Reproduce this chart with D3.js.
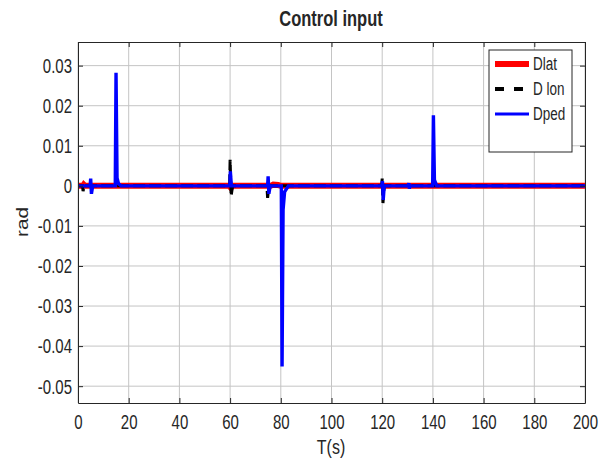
<!DOCTYPE html>
<html>
<head>
<meta charset="utf-8">
<script src="https://cdn.jsdelivr.net/npm/d3@7"></script>
<style>
  body { margin: 0; background: #fff; }
  svg { display: block; }
  text { font-family: "Liberation Sans", Arial, sans-serif; fill: #262626; }
</style>
</head>
<body>
<svg id="chart" width="610" height="466"></svg>
<script>
// ---- data ----
const xTicks = [0, 20, 40, 60, 80, 100, 120, 140, 160, 180, 200];
const yTicks = [-0.05, -0.04, -0.03, -0.02, -0.01, 0, 0.01, 0.02, 0.03];
const yTickLabels = ["-0.05", "-0.04", "-0.03", "-0.02", "-0.01", "0", "0.01", "0.02", "0.03"];
const seriesNames = ["Dlat", "D lon", "Dped"];

// [time (s), value (rad)]
const dlat = [[0,0],[2,0],[2.3,0.0003],[2.8,0],[59.6,0],[60.3,-0.0005],[61,0],[76,0],[77,0.0003],[79,0.0002],[80,0],[200,0]];
const dlon = [[0,0],[1.8,0],[2,-0.0013],[2.5,0],[59.8,0],[60,0.0065],[60.4,-0.0025],[61,0],[74.5,0],[74.8,-0.003],[75.3,0],[119.8,0],[120,0.0018],[120.3,-0.0043],[120.8,0],[200,0]];
const dped = [[0,0],[4.8,0],[5,0.0018],[5.3,-0.002],[5.8,0],[14.7,0],[15,0.0282],[15.4,0.002],[16,0.0005],[17,0],
              [59.9,0],[60.1,0.0036],[60.5,0],[74.8,0],[75,0.0024],[75.3,-0.002],[75.8,0],
              [80.2,0],[80.5,-0.0451],[80.9,-0.006],[81.5,-0.0015],[83,0],
              [119.9,0],[120.1,0.0012],[120.4,-0.0035],[120.8,0],
              [130.3,0],[130.5,0.0007],[130.7,-0.0007],[131,0],
              [139.9,0],[140.2,0.0176],[140.6,0.0015],[141.5,0],[200,0]];

// ---- layout ----
const svg = d3.select("#chart");
const L = 78, R = 585, T = 42, B = 403;
const x = d3.scaleLinear().domain([0, 200]).range([L, R]);
const y = d3.scaleLinear().domain([-0.0542, 0.0359]).range([B, T]);
const SY = 1.3; // vertical text stretch of the original figure
const axisColor = "#262626";

// grid
const grid = svg.append("g");
grid.selectAll(".gx").data(xTicks).join("line")
  .attr("x1", d => x(d)).attr("x2", d => x(d)).attr("y1", T).attr("y2", B)
  .attr("stroke", "#c4c4c4").attr("stroke-width", 1);
grid.selectAll(".gy").data(yTicks).join("line")
  .attr("x1", L).attr("x2", R).attr("y1", d => y(d)).attr("y2", d => y(d))
  .attr("stroke", "#c4c4c4").attr("stroke-width", 1);

// lines
const line = d3.line().x(d => x(d[0])).y(d => y(d[1]));
const plot = svg.append("g");
plot.append("path").datum(dlat).attr("d", line).attr("fill", "none")
  .attr("stroke", "#ff0000").attr("stroke-width", 6);
plot.append("path").datum(dlon).attr("d", line).attr("fill", "none")
  .attr("stroke", "#000").attr("stroke-width", 3).attr("stroke-dasharray", "12,4");
plot.append("path").datum(dped).attr("d", line).attr("fill", "none")
  .attr("stroke", "#0000ff").attr("stroke-width", 3.4);

// axes (inner ticks, box)
const fmtY = d => yTickLabels[yTicks.findIndex(v => Math.abs(v - d) < 1e-9)];
const gB = svg.append("g").attr("transform", `translate(0,${B})`)
  .call(d3.axisBottom(x).tickValues(xTicks).tickSizeInner(-5).tickSizeOuter(0).tickPadding(0).tickFormat(d3.format("d")));
const gT = svg.append("g").attr("transform", `translate(0,${T})`)
  .call(d3.axisTop(x).tickValues(xTicks).tickSizeInner(-5).tickSizeOuter(0).tickFormat(""));
const gL = svg.append("g").attr("transform", `translate(${L},0)`)
  .call(d3.axisLeft(y).tickValues(yTicks).tickSizeInner(-5).tickSizeOuter(0).tickPadding(0).tickFormat(fmtY));
const gR = svg.append("g").attr("transform", `translate(${R},0)`)
  .call(d3.axisRight(y).tickValues(yTicks).tickSizeInner(-5).tickSizeOuter(0).tickFormat(""));
[gB, gT, gL, gR].forEach(g => {
  g.select(".domain").attr("stroke", axisColor);
  g.selectAll(".tick line").attr("stroke", axisColor);
});
gB.selectAll("text").attr("font-size", 15).attr("font-family", "Liberation Sans, Arial, sans-serif")
  .attr("fill", axisColor).attr("y", 19 / SY).attr("dy", "0.35em").attr("transform", `scale(1,${SY})`);
gL.selectAll("text").attr("font-size", 15).attr("font-family", "Liberation Sans, Arial, sans-serif")
  .attr("fill", axisColor).attr("x", -6).attr("y", 0).attr("dy", "0.35em").attr("transform", `scale(1,${SY})`);

// title and axis labels
function label(txt, cx, cy, size, weight, rot) {
  const g = svg.append("g").attr("transform", `translate(${cx},${cy})` + (rot ? " rotate(-90)" : ""));
  g.append("text").text(txt).attr("text-anchor", "middle").attr("dy", "0.35em")
    .attr("font-size", size).attr("font-weight", weight || "normal")
    .attr("fill", weight === "bold" ? "#000" : axisColor)
    .attr("transform", rot ? `scale(${SY},1)` : `scale(1,${SY})`);
}
label("Control input", 331, 18, 16.5, "bold");
label("T(s)", 331, 447, 16);
label("rad", 22, 222, 16, null, true);

// legend
const lg = svg.append("g");
lg.append("rect").attr("x", 489).attr("y", 50).attr("width", 83).attr("height", 102)
  .attr("fill", "#fff").attr("stroke", axisColor).attr("stroke-width", 1);
const legY = [64, 89, 114];
const legStyle = [
  {c: "#ff0000", w: 6, dash: null},
  {c: "#000", w: 4, dash: "9,10"},
  {c: "#0000ff", w: 3.2, dash: null}
];
seriesNames.forEach((n, i) => {
  lg.append("line").attr("x1", 495).attr("x2", 529).attr("y1", legY[i]).attr("y2", legY[i])
    .attr("stroke", legStyle[i].c).attr("stroke-width", legStyle[i].w)
    .attr("stroke-dasharray", legStyle[i].dash);
  const g = lg.append("g").attr("transform", `translate(533,${legY[i]})`);
  g.append("text").text(n).attr("font-size", 13.5).attr("dy", "0.35em").attr("fill", "#000")
    .attr("transform", `scale(1,${SY})`);
});
</script>
</body>
</html>
